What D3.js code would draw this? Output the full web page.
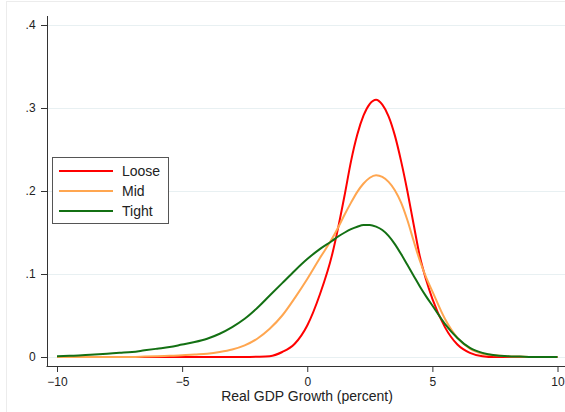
<!DOCTYPE html>
<html>
<head>
<meta charset="utf-8">
<script src="https://cdn.jsdelivr.net/npm/d3@7"></script>
<style>
  body { margin: 0; background: #fff; }
  text { font-family: "Liberation Sans", Arial, sans-serif; fill: #222; }
</style>
</head>
<body>
<div id="chart"></div>
<script>
// Data: density of real GDP growth by financial conditions
// x grid is finer (0.25) around the peaks
var growth = d3.range(-10, 0.75, 0.5)
    .concat(d3.range(1, 4.9, 0.25))
    .concat(d3.range(5, 10.01, 0.5));

var loose = [0, 0, 0, 0, 0, 0, 0, 0, 0, 0, 0, 0, 0, 0, 0, 0,
    0.0003, 0.001, 0.006, 0.016, 0.038, 0.075,
    0.124, 0.158, 0.196, 0.236, 0.268, 0.291, 0.305, 0.310,
    0.304, 0.290, 0.267, 0.236, 0.200, 0.160, 0.121, 0.093,
    0.070, 0.036, 0.015, 0.005, 0.001, 0, 0, 0, 0, 0, 0];

var mid = [0, 0, 0, 0, 0, 0, 0, 0.0005, 0.001, 0.0015, 0.002, 0.003, 0.004, 0.006, 0.009, 0.014,
    0.022, 0.034, 0.050, 0.071, 0.094, 0.119,
    0.143, 0.157, 0.172, 0.186, 0.199, 0.209, 0.216, 0.219,
    0.217, 0.211, 0.201, 0.186, 0.165, 0.140, 0.116, 0.096,
    0.079, 0.046, 0.023, 0.010, 0.004, 0.002, 0.001, 0.0005, 0, 0, 0];

var tight = [0.001, 0.0015, 0.002, 0.003, 0.004, 0.005, 0.006, 0.008, 0.010, 0.012, 0.015, 0.018, 0.022, 0.028, 0.036, 0.046,
    0.059, 0.074, 0.089, 0.104, 0.118, 0.130,
    0.140, 0.1455, 0.150, 0.154, 0.157, 0.159, 0.159, 0.157,
    0.153, 0.146, 0.136, 0.124, 0.111, 0.098, 0.085, 0.073,
    0.062, 0.040, 0.023, 0.011, 0.005, 0.002, 0.001, 0.0005, 0, 0, 0];

var xTicks = [-10, -5, 0, 5, 10];
var yTicks = [0, 0.1, 0.2, 0.3, 0.4];

var seriesNames = ["Loose", "Mid", "Tight"];
var seriesValues = [loose, mid, tight];
var seriesColors = ["#ff0000", "#ffa650", "#137013"];

// SVG area
var svgWidth = 565;
var svgHeight = 412;

var svg = d3.select("#chart")
    .append("svg")
    .attr("width", svgWidth)
    .attr("height", svgHeight);

// faint outer frame
svg.append("rect")
    .attr("x", 6.5)
    .attr("y", 1.5)
    .attr("width", 600)
    .attr("height", 450)
    .attr("fill", "none")
    .attr("stroke", "#ececec");

var xScale = d3.scaleLinear().domain([-10, 10]).range([57, 557.5]);
var yScale = d3.scaleLinear().domain([0, 0.4]).range([357, 25]);

var axisX = 47;   // left axis position
var axisY = 366;  // bottom axis position

// gridlines
svg.append("g")
    .selectAll("line")
    .data(yTicks)
    .enter()
    .append("line")
    .attr("x1", axisX)
    .attr("x2", svgWidth)
    .attr("y1", d => yScale(d) + 0.5)
    .attr("y2", d => yScale(d) + 0.5)
    .attr("stroke", "#e8f0f2")
    .attr("stroke-width", 1.2);

// axes
var bottomAxis = d3.axisBottom(xScale)
    .tickValues(xTicks)
    .tickSize(6)
    .tickFormat(d3.format("d"));

var leftAxis = d3.axisLeft(yScale)
    .tickValues(yTicks)
    .tickSize(6)
    .tickFormat(d => d === 0 ? "0" : d3.format(".1f")(d).replace(/^0/, ""));

var gx = svg.append("g")
    .attr("transform", `translate(0, ${axisY})`)
    .call(bottomAxis);
var gy = svg.append("g")
    .attr("transform", `translate(${axisX}, 0)`)
    .call(leftAxis);

[gx, gy].forEach(function (g) {
    g.select(".domain").remove();
    g.selectAll(".tick line").attr("stroke", "#333");
    g.selectAll(".tick text")
        .attr("font-size", 12)
        .attr("font-family", "Liberation Sans, Arial, sans-serif")
        .attr("fill", "#222");
});
gx.selectAll(".tick text").attr("dy", "0.9em");
gy.selectAll(".tick text").attr("dx", "-0.2em");

svg.append("line")
    .attr("x1", axisX - 0.5).attr("x2", svgWidth)
    .attr("y1", axisY + 0.5).attr("y2", axisY + 0.5)
    .attr("stroke", "#333");
svg.append("line")
    .attr("x1", axisX + 0.5).attr("x2", axisX + 0.5)
    .attr("y1", 16).attr("y2", axisY + 0.5)
    .attr("stroke", "#333");

// density curves
var line = d3.line()
    .x((d, i) => xScale(growth[i]))
    .y(d => yScale(d))
    .curve(d3.curveMonotoneX);

svg.append("g")
    .selectAll("path")
    .data(seriesValues)
    .enter()
    .append("path")
    .attr("d", d => line(d))
    .attr("fill", "none")
    .attr("stroke", (d, i) => seriesColors[i])
    .attr("stroke-width", 2);

// axis title
svg.append("text")
    .attr("x", 307)
    .attr("y", 401)
    .attr("text-anchor", "middle")
    .attr("font-size", 14)
    .text("Real GDP Growth (percent)");

// legend
var legend = svg.append("g");
legend.append("rect")
    .attr("x", 52.5)
    .attr("y", 157.5)
    .attr("width", 116)
    .attr("height", 66)
    .attr("fill", "#fff")
    .attr("stroke", "#555");

var items = legend.selectAll("g.item")
    .data(seriesNames)
    .enter()
    .append("g")
    .attr("transform", (d, i) => `translate(0, ${171 + i * 20})`);

items.append("line")
    .attr("x1", 59).attr("x2", 113)
    .attr("stroke", (d, i) => seriesColors[i])
    .attr("stroke-width", 2);

items.append("text")
    .attr("x", 122)
    .attr("dy", "0.36em")
    .attr("font-size", 14)
    .text(d => d);
</script>
</body>
</html>
